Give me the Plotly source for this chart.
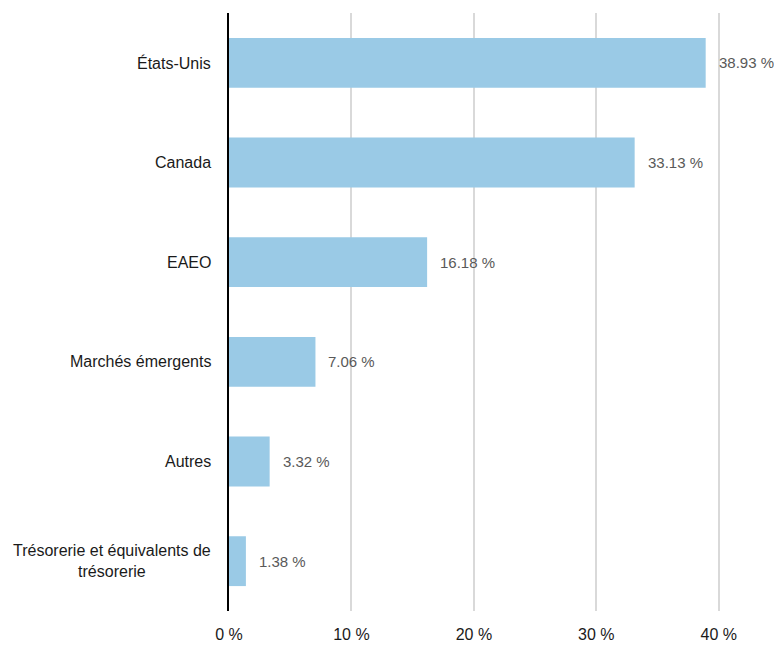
import plotly.graph_objects as go

categories = ["États-Unis", "Canada", "EAEO", "Marchés émergents", "Autres",
              "Trésorerie et équivalents de<br>trésorerie"]
values = [38.93, 33.13, 16.18, 7.06, 3.32, 1.38]
value_labels = ["38.93 %", "33.13 %", "16.18 %", "7.06 %", "3.32 %", "1.38 %"]
x_ticks = [0, 10, 20, 30, 40]
x_tick_labels = ["0 %", "10 %", "20 %", "30 %", "40 %"]

FONT = "Liberation Sans, Arial, sans-serif"

fig = go.Figure(go.Bar(
    x=values, y=categories, orientation="h",
    marker=dict(color="#9ACAE6", line=dict(width=0)),
    hoverinfo="skip",
))

annotations = []
for c, v, lab in zip(categories, values, value_labels):
    annotations.append(dict(x=v, y=c, xref="x", yref="y", text=lab, showarrow=False,
                            xanchor="left", xshift=11,
                            font=dict(family=FONT, size=15, color="#595959")))
    annotations.append(dict(x=0, y=c, xref="paper", yref="y", text=c, showarrow=False,
                            xanchor="right", xshift=-16, align="center",
                            font=dict(family=FONT, size=16, color="#1a1a1a")))

fig.update_layout(
    width=774, height=637,
    margin=dict(l=221, r=2, t=5, b=32),
    plot_bgcolor="white", paper_bgcolor="white",
    showlegend=False,
    bargap=0.5,
    font=dict(family=FONT, size=16, color="#1a1a1a"),
    annotations=annotations,
    xaxis=dict(range=[0, 45], tickvals=x_ticks, ticktext=x_tick_labels,
               showgrid=True, gridcolor="#d9d9d9", gridwidth=1.5,
               zeroline=False, showline=False, ticks="", ticklabelstandoff=12,
               tickfont=dict(family=FONT, size=16, color="#1a1a1a")),
    yaxis=dict(autorange="reversed", showticklabels=False, showgrid=False,
               showline=True, linecolor="#000000", linewidth=1.5, zeroline=False,
               ticks=""),
)

fig.write_html("out.html")
